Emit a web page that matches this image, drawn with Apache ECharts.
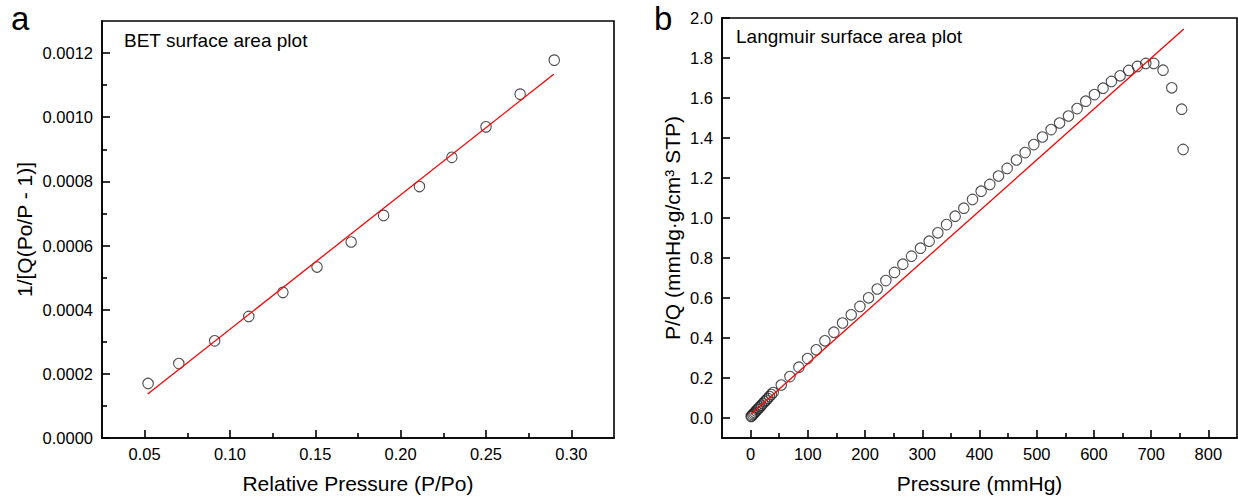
<!DOCTYPE html>
<html>
<head>
<meta charset="utf-8">
<script src="https://cdn.jsdelivr.net/npm/echarts@6/dist/echarts.min.js"></script>
<style>
  html, body { margin: 0; padding: 0; background: #fff; }
  #chart { width: 1238px; height: 500px; }
</style>
</head>
<body>
<div id="chart"></div>
<script>
// ---------- Data ----------
// Panel a: BET surface area plot
const betX = [0.052, 0.070, 0.091, 0.111, 0.131, 0.151, 0.171, 0.190, 0.211, 0.230, 0.250, 0.270, 0.290];
const betY = [0.000170, 0.000232, 0.000303, 0.000379, 0.000454, 0.000533, 0.000611, 0.000694, 0.000784, 0.000875, 0.000970, 0.001072, 0.001178];
const betFitX = [0.0518, 0.2897];
const betFitY = [0.000137, 0.001134];

// Panel b: Langmuir surface area plot
const langP = [0.9, 2.1, 3.8, 5.6, 7.5, 9.6, 11.8, 14.1, 16.5, 19.0, 21.6, 24.3, 27.1, 30.0, 33.0, 36.2, 39.5,
  53.6, 68.7, 84.4, 99.6, 114.7, 129.8, 145.6, 160.7, 175.8, 191.0, 206.1, 221.3, 236.4, 251.5,
  266.1, 281.2, 296.9, 312.1, 327.2, 342.4, 357.5, 372.6, 387.8, 402.9, 418.0, 433.2, 448.3, 464.6,
  479.8, 494.9, 510.0, 525.2, 540.0, 555.5, 570.6, 585.7, 600.9, 616.0, 630.6, 645.7, 660.8, 676.0,
  690.6, 704.5, 720.8, 736.0, 753.4, 755.8];
const langQ = [0.008, 0.011, 0.017, 0.022, 0.028, 0.035, 0.042, 0.049, 0.056, 0.064, 0.072, 0.081, 0.089, 0.098, 0.107, 0.117, 0.127,
  0.165, 0.207, 0.254, 0.297, 0.341, 0.386, 0.429, 0.475, 0.516, 0.558, 0.601, 0.645, 0.687, 0.728,
  0.769, 0.809, 0.849, 0.884, 0.926, 0.967, 1.009, 1.049, 1.093, 1.134, 1.168, 1.210, 1.248, 1.290,
  1.327, 1.367, 1.405, 1.442, 1.475, 1.510, 1.547, 1.584, 1.617, 1.649, 1.683, 1.711, 1.738, 1.758,
  1.773, 1.773, 1.739, 1.651, 1.544, 1.343];
const langFitP = [1, 757];
const langFitQ = [0.02, 1.945];

// Axis ranges and tick labels
const betXRange = [0.025, 0.325];
const betXMajor = [0.05, 0.10, 0.15, 0.20, 0.25, 0.30];
const betXMinor = [0.075, 0.125, 0.175, 0.225, 0.275];
const betYRange = [0, 0.0013];
const betYMajor = [0, 0.0002, 0.0004, 0.0006, 0.0008, 0.0010, 0.0012];
const betYMinor = [0.0001, 0.0003, 0.0005, 0.0007, 0.0009, 0.0011];

const langXRange = [-50, 850];
const langXMajor = [0, 100, 200, 300, 400, 500, 600, 700, 800];
const langXMinor = [50, 150, 250, 350, 450, 550, 650, 750];
const langYRange = [-0.1, 2.0];
const langYMajor = [0, 0.2, 0.4, 0.6, 0.8, 1.0, 1.2, 1.4, 1.6, 1.8, 2.0];

// Texts
const panelA = 'a', panelB = 'b';
const betTitle = 'BET surface area plot';
const langTitle = 'Langmuir surface area plot';
const betXName = 'Relative Pressure (P/Po)';
const betYName = '1/[Q(Po/P - 1)]';
const langXName = 'Pressure (mmHg)';
const langYName = 'P/Q (mmHg·g/cm³ STP)';

// ---------- Chart ----------
const FONT = 'Arial, "Liberation Sans", Helvetica, sans-serif';
const INK = '#000';
const LINE_W = 1.6;

function zip(a, b) { return a.map((v, i) => [v, b[i]]); }

function majorAxis(kind, grid, range, ticks, digits, name, nameGap, pos) {
  return {
    type: 'value', gridIndex: grid, min: range[0], max: range[1], position: pos,
    name: name, nameLocation: 'middle', nameGap: nameGap,
    nameTextStyle: { fontFamily: FONT, fontSize: 21, color: INK },
    axisLine: { show: true, onZero: false, lineStyle: { color: INK, width: LINE_W } },
    axisTick: { show: true, inside: true, length: 8, customValues: ticks, lineStyle: { color: INK, width: LINE_W } },
    axisLabel: { show: true, customValues: ticks, margin: kind === 'x' ? 7 : 9,
      fontFamily: FONT, fontSize: 16.5, color: INK, formatter: v => Number(v).toFixed(digits) },
    splitLine: { show: false }
  };
}
function minorAxis(grid, range, ticks, pos) {
  return {
    type: 'value', gridIndex: grid, min: range[0], max: range[1], position: pos,
    axisLine: { show: false, onZero: false },
    axisTick: { show: true, inside: true, length: 5, customValues: ticks, lineStyle: { color: INK, width: LINE_W } },
    axisLabel: { show: false },
    splitLine: { show: false }
  };
}

const circleStyle = { color: 'rgba(0,0,0,0)', borderColor: '#222', borderWidth: 1.1 };

const option = {
  animation: false,
  textStyle: { fontFamily: FONT },
  grid: [
    { left: 102, top: 21, width: 512, height: 417, show: true, borderColor: INK, borderWidth: LINE_W, backgroundColor: 'transparent' },
    { left: 722, top: 18, width: 515, height: 420, show: true, borderColor: INK, borderWidth: LINE_W, backgroundColor: 'transparent' }
  ],
  xAxis: [
    majorAxis('x', 0, betXRange, betXMajor, 2, betXName, 35, 'bottom'),
    minorAxis(0, betXRange, betXMinor, 'bottom'),
    majorAxis('x', 1, langXRange, langXMajor, 0, langXName, 35, 'bottom'),
    minorAxis(1, langXRange, langXMinor, 'bottom')
  ],
  yAxis: [
    majorAxis('y', 0, betYRange, betYMajor, 4, betYName, 67, 'left'),
    minorAxis(0, betYRange, betYMinor, 'left'),
    majorAxis('y', 1, langYRange, langYMajor, 1, langYName, 39, 'left')
  ],
  graphic: [
    { type: 'text', left: 11, top: 2, style: { text: panelA, font: '33px ' + FONT, fill: INK } },
    { type: 'text', left: 654, top: 2, style: { text: panelB, font: '33px ' + FONT, fill: INK } },
    { type: 'text', left: 124, top: 31, style: { text: betTitle, font: '19px ' + FONT, fill: INK } },
    { type: 'text', left: 736, top: 27, style: { text: langTitle, font: '19px ' + FONT, fill: INK } }
  ],
  series: [
    { type: 'scatter', xAxisIndex: 0, yAxisIndex: 0, data: zip(betX, betY),
      symbol: 'circle', symbolSize: 10.5, itemStyle: circleStyle, z: 2 },
    { type: 'line', xAxisIndex: 0, yAxisIndex: 0, data: zip(betFitX, betFitY),
      symbol: 'none', lineStyle: { color: '#ff0000', width: 1.3 }, z: 3 },
    { type: 'scatter', xAxisIndex: 2, yAxisIndex: 2, data: zip(langP, langQ),
      symbol: 'circle', symbolSize: 10.5, itemStyle: circleStyle, z: 2 },
    { type: 'line', xAxisIndex: 2, yAxisIndex: 2, data: zip(langFitP, langFitQ),
      symbol: 'none', lineStyle: { color: '#ff0000', width: 1.3 }, z: 3 }
  ]
};

const chart = echarts.init(document.getElementById('chart'), null, { renderer: 'svg' });
chart.setOption(option);
</script>
</body>
</html>
